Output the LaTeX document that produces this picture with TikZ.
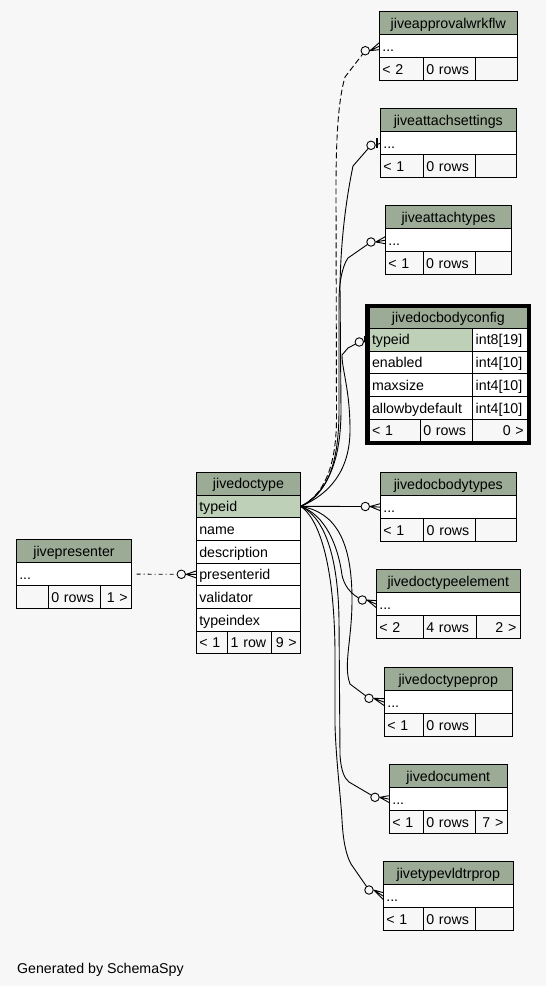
\documentclass[tikz,border=0pt]{standalone}
\usepackage{fontspec}
\setmainfont{Liberation Sans}
\usetikzlibrary{positioning}

\definecolor{bgcol}{HTML}{F7F7F7}
\definecolor{hdrcol}{HTML}{9BAB96}
\definecolor{keycol}{HTML}{BED1B8}

\tikzset{
  hdr/.style={draw, fill=hdrcol, anchor=north west, minimum width=#1, minimum height=23.5pt, inner sep=0pt, outer sep=0pt, text height=10.6pt, text depth=0pt},
  fld/.style={draw, fill=white, anchor=north west, text width=#1, minimum height=22.7pt, inner xsep=3pt, inner ysep=0pt, outer sep=0pt, align=left, text height=10.6pt, text depth=0pt},
  key/.style={fld=#1, fill=keycol},
  foot/.style={fld=#1, fill=bgcol},
  footr/.style={foot=#1, align=right, inner xsep=4pt},
  ring/.style={circle, draw, fill=bgcol, minimum size=8.5pt, inner sep=0pt},
  crowfoot/.style={to path={(\tikztostart) -- ([yshift=3.5pt]\tikztotarget) (\tikztostart) -- (\tikztotarget) (\tikztostart) -- ([yshift=-3.5pt]\tikztotarget)}},
  implied/.style={dash pattern=on 6pt off 3pt},
}

\begin{document}
\begin{tikzpicture}[x=1pt,y=-1pt,line width=0.9pt,font=\fontsize{14.2}{17}\selectfont]
  \fill[bgcol] (0,0) rectangle (546,986);
  \useasboundingbox (0,0) rectangle (546,986);

  % jivedoctype
  \node[hdr=104.4pt, minimum height=22.7pt] (dt) at (196.3,472.3) {jivedoctype};
  \node[key=98.4pt] (dt-typeid) at (dt.south west) {typeid};
  \node[fld=98.4pt] (dt-name) at (dt-typeid.south west) {name};
  \node[fld=98.4pt] (dt-description) at (dt-name.south west) {description};
  \node[fld=98.4pt] (dt-presenterid) at (dt-description.south west) {presenterid};
  \node[fld=98.4pt] (dt-validator) at (dt-presenterid.south west) {validator};
  \node[fld=98.4pt] (dt-typeindex) at (dt-validator.south west) {typeindex};
  \node[foot=25.4pt] (dt-f1) at (dt-typeindex.south west) {< 1};
  \node[foot=37.6pt] (dt-f2) at (dt-f1.north east) {1 row};
  \node[footr=21.4pt] (dt-f3) at (dt-f2.north east) {9 >};

  % jivepresenter
  \node[hdr=115.4pt] (pr) at (16.3,539.3) {jivepresenter};
  \node[fld=109.4pt] (pr-r) at (pr.south west) {...};
  \node[foot=26pt] (pr-f1) at (pr-r.south west) {};
  \node[foot=45.7pt] (pr-f2) at (pr-f1.north east) {0 rows};
  \node[footr=23.7pt] (pr-f3) at (pr-f2.north east) {1 >};

  % jiveapprovalwrkflw
  \node[hdr=138pt] (apw) at (379.3,11.3) {jiveapprovalwrkflw};
  \node[fld=132pt] (apw-r) at (apw.south west) {...};
  \node[foot=38pt] (apw-f1) at (apw-r.south west) {< 2};
  \node[foot=46.4pt] (apw-f2) at (apw-f1.north east) {0 rows};
  \node[foot=35.6pt] (apw-f3) at (apw-f2.north east) {};

  % jiveattachsettings
  \node[hdr=136pt] (ast) at (380.3,108.3) {jiveattachsettings};
  \node[fld=130pt] (ast-r) at (ast.south west) {...};
  \node[foot=37pt] (ast-f1) at (ast-r.south west) {< 1};
  \node[foot=46.4pt] (ast-f2) at (ast-f1.north east) {0 rows};
  \node[foot=34.6pt] (ast-f3) at (ast-f2.north east) {};

  % jiveattachtypes
  \node[hdr=126.4pt] (aty) at (385.3,205.3) {jiveattachtypes};
  \node[fld=120.4pt] (aty-r) at (aty.south west) {...};
  \node[foot=31.7pt] (aty-f1) at (aty-r.south west) {< 1};
  \node[foot=46.7pt] (aty-f2) at (aty-f1.north east) {0 rows};
  \node[foot=30pt] (aty-f3) at (aty-f2.north east) {};

  % jivedocbodyconfig
  \node[hdr=158.7pt, minimum height=22.6pt] (dbc) at (369,305.7) {jivedocbodyconfig};
  \node[key=97.7pt] (dbc-typeid) at (dbc.south west) {typeid};
  \node[fld=49pt] (dbc-typeid-t) at (dbc-typeid.north east) {int8[19]};
  \node[fld=97.7pt] (dbc-enabled) at (dbc-typeid.south west) {enabled};
  \node[fld=49pt] (dbc-enabled-t) at (dbc-enabled.north east) {int4[10]};
  \node[fld=97.7pt] (dbc-maxsize) at (dbc-enabled.south west) {maxsize};
  \node[fld=49pt] (dbc-maxsize-t) at (dbc-maxsize.north east) {int4[10]};
  \node[fld=97.7pt] (dbc-allow) at (dbc-maxsize.south west) {allowbydefault};
  \node[fld=49pt] (dbc-allow-t) at (dbc-allow.north east) {int4[10]};
  \node[foot=45.3pt] (dbc-f1) at (dbc-allow.south west) {< 1};
  \node[foot=46.4pt] (dbc-f2) at (dbc-f1.north east) {0 rows};
  \node[footr=47pt] (dbc-f3) at (dbc-f2.north east) {0 >};
  \draw[line width=3.7pt] (367.2,305.7) rectangle (529.5,443.3);

  % jivedocbodytypes
  \node[hdr=136pt] (dbt) at (380.3,472.3) {jivedocbodytypes};
  \node[fld=130pt] (dbt-r) at (dbt.south west) {...};
  \node[foot=37.4pt] (dbt-f1) at (dbt-r.south west) {< 1};
  \node[foot=46pt] (dbt-f2) at (dbt-f1.north east) {0 rows};
  \node[foot=34.6pt] (dbt-f3) at (dbt-f2.north east) {};

  % jivedoctypeelement
  \node[hdr=144pt] (dte) at (376.3,569.3) {jivedoctypeelement};
  \node[fld=138pt] (dte-r) at (dte.south west) {...};
  \node[foot=41pt] (dte-f1) at (dte-r.south west) {< 2};
  \node[foot=46.7pt] (dte-f2) at (dte-f1.north east) {4 rows};
  \node[footr=36.3pt] (dte-f3) at (dte-f2.north east) {2 >};

  % jivedoctypeprop
  \node[hdr=128pt] (dtp) at (384.3,667.3) {jivedoctypeprop};
  \node[fld=122pt] (dtp-r) at (dtp.south west) {...};
  \node[foot=33pt] (dtp-f1) at (dtp-r.south west) {< 1};
  \node[foot=46pt] (dtp-f2) at (dtp-f1.north east) {0 rows};
  \node[foot=31pt] (dtp-f3) at (dtp-f2.north east) {};

  % jivedocument
  \node[hdr=118pt] (doc) at (389.3,764.3) {jivedocument};
  \node[fld=112pt] (doc-r) at (doc.south west) {...};
  \node[foot=28pt] (doc-f1) at (doc-r.south west) {< 1};
  \node[foot=46pt] (doc-f2) at (doc-f1.north east) {0 rows};
  \node[footr=24pt] (doc-f3) at (doc-f2.north east) {7 >};

  % jivetypevldtrprop
  \node[hdr=130pt] (tvp) at (383.3,861.3) {jivetypevldtrprop};
  \node[fld=124pt] (tvp-r) at (tvp.south west) {...};
  \node[foot=34pt] (tvp-f1) at (tvp-r.south west) {< 1};
  \node[foot=46pt] (tvp-f2) at (tvp-f1.north east) {0 rows};
  \node[foot=32pt] (tvp-f3) at (tvp-f2.north east) {};

  % relationship curves
  \draw[implied] (dt-typeid.east) .. controls (322,496) and (336,470) .. (336.5,420) -- (336,190) .. controls (336,130) and (339,98) .. (345,77) -- (365.3,50.7);
  \draw (dt-typeid.east) .. controls (325,494) and (341,465) .. (341,410) -- (340,285) .. controls (341,235) and (347,195) .. (353,166) -- (371,145.3);
  \draw (dt-typeid.east) .. controls (328,494) and (339,462) .. (339,410) -- (339,300) .. controls (339,285) and (342,266) .. (348,258) -- (371,242);
  \draw (dt-typeid.east) .. controls (330,494) and (350,470) .. (350,430) .. controls (350,390) and (342,370) .. (342,355) -- (348,348) -- (359.3,342);
  \draw (dt-typeid.east) -- (365.3,506.5);
  \draw (dt-typeid.east) .. controls (325,515) and (338,545) .. (342,575) .. controls (344,585) and (350,594) .. (362.3,600);
  \draw (dt-typeid.east) .. controls (335,512) and (352,540) .. (352,600) .. controls (352,640) and (343,665) .. (350,684) -- (369,698.3);
  \draw (dt-typeid.east) .. controls (322,516) and (338,550) .. (339,620) -- (340,755) .. controls (341,770) and (344,778) .. (349,782) -- (375,797.3);
  \draw (dt-typeid.east) .. controls (318,518) and (334,560) .. (335,650) -- (335,725) .. controls (336,760) and (341,800) .. (342,820) .. controls (343,840) and (346,855) .. (351,864) -- (369,890);

  % relationship ends
  \node[ring] (apw-o) at (365.3,50.7) {};
  \node[ring] (ast-o) at (371,145.3) {};
  \node[ring] (aty-o) at (371,242) {};
  \node[ring] (dbc-o) at (359.3,342) {};
  \node[ring] (dbt-o) at (365.3,506.5) {};
  \node[ring] (dte-o) at (362.3,600) {};
  \node[ring] (dtp-o) at (369,698.3) {};
  \node[ring] (doc-o) at (375,797.3) {};
  \node[ring] (tvp-o) at (369,890) {};
  \node[ring] (pr-o) at (181.3,574.3) {};

  \draw (apw-o.east) to[crowfoot] (apw-r.west);
  \draw (aty-o.east) to[crowfoot] (aty-r.west);
  \draw (dbt-o.east) to[crowfoot] (dbt-r.west);
  \draw (dte-o.east) to[crowfoot] (dte-r.west);
  \draw (dtp-o.east) to[crowfoot] (dtp-r.west);
  \draw (doc-o.east) to[crowfoot] (doc-r.west);
  \draw (tvp-o.east) to[crowfoot] (tvp-r.west);
  \draw (pr-o.east) to[crowfoot] (dt-presenterid.west);
  \draw (ast-o.east) -- (ast-r.west);
  \draw[line width=2pt] ([xshift=-3pt,yshift=5pt]ast-r.west) -- ([xshift=-3pt,yshift=-5pt]ast-r.west);
  \draw (dbc-o.east) -- (dbc-typeid.west);
  \draw[line width=2pt] ([xshift=-4pt,yshift=4pt]dbc-typeid.west) -- ([xshift=-4pt,yshift=-2pt]dbc-typeid.west);
  \draw[dash pattern=on 4pt off 3pt on 1pt off 3pt] ([xshift=5pt]pr-r.east) -- (pr-o);

  \node[anchor=base west, inner xsep=0pt] (gen) at (16.7,973) {Generated by SchemaSpy};
\end{tikzpicture}
\end{document}
